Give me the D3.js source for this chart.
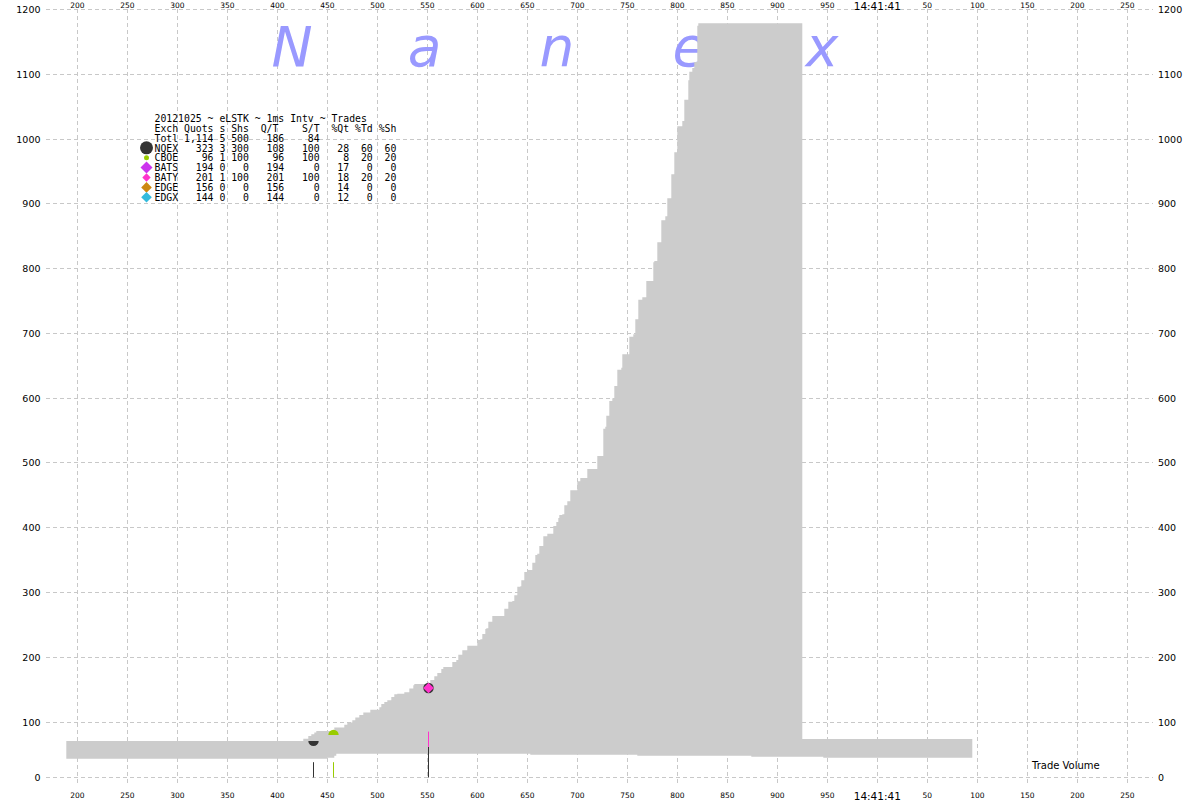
<!DOCTYPE html>
<html><head><meta charset="utf-8">
<script src="https://cdn.jsdelivr.net/npm/d3@7"></script>
<style>body{margin:0;background:#fff}svg{display:block}</style>
</head><body><svg id="c" width="1200" height="800"></svg>
<script>
// ---------- data ----------
const xTicks = [200,250,300,350,400,450,500,550,600,650,700,750,800,850,900,950,1000,1050,1100,1150,1200,1250];
const xTickLabels = ["200","250","300","350","400","450","500","550","600","650","700","750","800","850","900","950","14:41:41","50","100","150","200","250"];
const yTicks = [0,100,200,300,400,500,600,700,800,900,1000,1100,1200];

// upper edge of the shaded band (ms, value), step-after
const topTimes = [189,426,431,434,437,439,457,467,470,475,478,482,486,493,502,504,507,510,514,517,520,527,532,536,537,553,557,560,564,566,575,579,581,585,590,600,603,605,608,609,611,615,627,631,635,637,640,643,644,647,650,655,658,660,662,666,670,676,679,681,682,685,687,690,693,700,703,710,720,726,728,729,732,735,737,740,744,745,752,756,758,761,765,769,776,777,780,784,788,790,794,797,800,805,807,811,812,815,817,820,821,925,1095];
const topValues = [65,69,74,77,80,83,89,94,98,102,106,110,114,118,122,127,130,133,138,142,143,145,151,156,158,164,170,175,181,184,192,195,203,210,217,226,227,235,243,244,254,263,274,285,286,295,308,309,318,331,334,345,357,359,371,386,390,402,408,414,419,420,434,440,457,471,476,490,510,552,555,572,595,599,618,643,646,667,694,698,721,751,755,780,809,811,840,874,880,908,945,979,1019,1027,1060,1090,1103,1109,1118,1174,1178,68.5,68.5];
// lower edge of the shaded band
const bottomTimes = [189,450,457,459,653,760,874,946,1095];
const bottomValues = [33,34.8,38.4,42,40.2,38.4,36.6,34.8,34.8];

// legend table
const legendTitle = "20121025 ~ eLSTK ~ 1ms Intv ~ Trades";
const legendHeader = "Exch Quots s Shs  Q/T    S/T  %Qt %Td %Sh";
const totalRow = ["Totl","1,114","5","500","186","84"];
const exchanges = ["NQEX","CBOE","BATS","BATY","EDGE","EDGX"];
const quotes = [323,96,194,201,156,144];
const tradeCounts = [3,1,0,1,0,0];
const shares = [300,100,0,100,0,0];
const quotesPerTrade = [108,96,194,201,156,144];
const sharesPerTrade = [100,100,0,100,0,0];
const pctQuotes = [28,8,17,18,14,12];
const pctTrades = [60,20,0,20,0,0];
const pctShares = [60,20,0,20,0,0];
const exColors = ["#333333","#99cc00","#cc33ee","#ff33cc","#cc8811","#33bbdd"];
const exShapes = ["bigcircle","dot","diamondL","diamondS","diamondM","diamondM"];

// trades
const tradeTimes = [436,456,551,551];
const tradeExch = ["NQEX","CBOE","NQEX","BATY"];
const tradeShares = [100,100,200,100];
const tradeValues = [65,75.7,151.7,151.7];

// ---------- scales ----------
const svg = d3.select("#c");
const x = d3.scaleLinear().domain([200,1250]).range([77.3,1127.3]);
const y = d3.scaleLinear().domain([0,100,1200]).range([777,721.5,9]);
const vol = d3.scaleLinear().domain([0,100]).range([0,15.3]);
const gridColor = "#c8c8c8";

// ---------- grid ----------
const g = svg.append("g");
g.selectAll("line.v").data(xTicks).join("line")
  .attr("x1", d => Math.round(x(d)) + 0.5).attr("x2", d => Math.round(x(d)) + 0.5)
  .attr("y1", 9).attr("y2", 786)
  .attr("stroke", gridColor).attr("stroke-dasharray", "4,3");
g.selectAll("line.h").data(yTicks).join("line")
  .attr("y1", d => Math.round(y(d)) + 0.5).attr("y2", d => Math.round(y(d)) + 0.5)
  .attr("x1", 46).attr("x2", 1153)
  .attr("stroke", gridColor).attr("stroke-dasharray", "4,3");

// ---------- watermark ----------
const wm = ["N","a","n","e","x"];
svg.append("g").selectAll("text").data(wm).join("text")
  .attr("x", (d,i) => 292 + i*132.5).attr("y", 66)
  .attr("text-anchor","middle")
  .attr("font-family","DejaVu Sans").attr("font-style","italic")
  .attr("font-size",55).attr("fill","#9999ff").text(d => d);

// ---------- shaded band ----------
const allTimes = Array.from(new Set(topTimes.concat(bottomTimes))).sort((a,b)=>a-b);
const stepVal = (ts, vs, t) => vs[Math.max(0, d3.bisectRight(ts, t) - 1)];
const band = allTimes.map(t => ({t, hi: stepVal(topTimes, topValues, t), lo: stepVal(bottomTimes, bottomValues, t)}));
svg.append("path").datum(band)
  .attr("d", d3.area().curve(d3.curveStepAfter)
     .x(d => x(d.t)).y0(d => y(d.lo)).y1(d => y(d.hi)))
  .attr("fill","#cccccc");

// ---------- trade volume lines ----------
const colorOf = e => exColors[exchanges.indexOf(e)];
const stackBase = {};
const volData = tradeTimes.map((t,i) => {
  const base = stackBase[t] || 0;
  stackBase[t] = base + tradeShares[i];
  return {t, e: tradeExch[i], b: base, s: tradeShares[i]};
});
svg.append("g").selectAll("line").data(volData).join("line")
  .attr("x1", d => Math.round(x(d.t)) + 0.5).attr("x2", d => Math.round(x(d.t)) + 0.5)
  .attr("y1", d => 777.5 - vol(d.b)).attr("y2", d => 777.5 - vol(d.b + d.s))
  .attr("stroke", d => colorOf(d.e)).attr("stroke-width", 1);

// ---------- trade markers ----------
const mk = svg.append("g");
tradeTimes.forEach((t,i) => {
  const e = tradeExch[i], c = colorOf(e);
  const px = Math.round(x(t)) + 0.5, py = y(tradeValues[i]);
  const multi = tradeTimes.filter(u => u === t).length > 1;
  if (e === "NQEX" && !multi) {
    mk.append("path").attr("transform",`translate(${px},${py})`)
      .attr("d", d3.arc()({innerRadius:0, outerRadius:5.2, startAngle:Math.PI/2, endAngle:3*Math.PI/2})).attr("fill", c);
  } else if (e === "CBOE") {
    mk.append("path").attr("transform",`translate(${px},${py})`)
      .attr("d", d3.arc()({innerRadius:0, outerRadius:5.2, startAngle:-Math.PI/2, endAngle:Math.PI/2})).attr("fill", c);
  } else if (e === "NQEX") {
    mk.append("path").attr("transform",`translate(${px},${py})`)
      .attr("d", d3.symbol(d3.symbolCircle, Math.PI*5.2*5.2)()).attr("fill", c);
  } else {
    mk.append("path").attr("transform",`translate(${px},${py}) rotate(45)`)
      .attr("d", d3.symbol(d3.symbolSquare, 2*5.3*5.3)()).attr("fill", c);
  }
});

// ---------- legend ----------
const lg = svg.append("g").attr("font-family","DejaVu Sans Mono").attr("font-size",9.8).attr("fill","#000");
const lineY = i => 121.8 + i*9.9;
const rows = [legendTitle, legendHeader,
  totalRow[0] + totalRow[1].padStart(6) + " " + totalRow[2] + " " + totalRow[3].padStart(3) + totalRow[4].padStart(6) + totalRow[5].padStart(6)];
exchanges.forEach((e,i) => {
  rows.push(e + String(quotes[i]).padStart(6) + " " + tradeCounts[i] + " " + String(shares[i]).padStart(3)
    + String(quotesPerTrade[i]).padStart(6) + String(sharesPerTrade[i]).padStart(6)
    + String(pctQuotes[i]).padStart(5) + String(pctTrades[i]).padStart(4) + String(pctShares[i]).padStart(4));
});
lg.selectAll("text").data(rows).join("text")
  .attr("x",154.5).attr("y",(d,i)=>lineY(i))
  .attr("xml:space","preserve").style("white-space","pre").text(d=>d);
const sym = {
  bigcircle: d3.symbol(d3.symbolCircle, Math.PI*6.5*6.5)(),
  dot: d3.symbol(d3.symbolCircle, Math.PI*2.5*2.5)(),
  diamondL: d3.symbol(d3.symbolSquare, 2*6*6)(),
  diamondS: d3.symbol(d3.symbolSquare, 2*4.2*4.2)(),
  diamondM: d3.symbol(d3.symbolSquare, 2*5.3*5.3)()
};
svg.append("g").selectAll("path").data(exchanges).join("path")
  .attr("transform",(d,i)=>`translate(146.5,${lineY(i+3)-3.7})` + (exShapes[i].startsWith("diamond") ? " rotate(45)" : ""))
  .attr("d",(d,i)=>sym[exShapes[i]]).attr("fill",(d,i)=>exColors[i]);

// ---------- axis labels ----------
const ax = svg.append("g").attr("fill","#000");
ax.selectAll("text.l").data(yTicks).join("text")
  .attr("x",40.5).attr("y",d=>Math.round(y(d))+4).attr("text-anchor","end")
  .attr("font-family","DejaVu Sans").attr("font-size",9.5).text(d=>d);
ax.selectAll("text.r").data(yTicks).join("text")
  .attr("x",1158).attr("y",d=>Math.round(y(d))+4).attr("text-anchor","start")
  .attr("font-family","DejaVu Sans").attr("font-size",9.5).text(d=>d);
[[8.3,10.1],[797.8,799.5]].forEach(([yy,yt]) => {
  ax.append("g").selectAll("text").data(xTicks).join("text")
    .attr("x",d=>x(d)).attr("y",(d,i)=>xTickLabels[i].includes(":") ? yt : yy)
    .attr("text-anchor","middle").attr("font-family","DejaVu Sans")
    .attr("font-size",(d,i)=>xTickLabels[i].includes(":") ? 10.5 : 7.5)
    .text((d,i)=>xTickLabels[i]);
});
ax.append("text").attr("x",1032).attr("y",769).attr("font-family","DejaVu Sans").attr("font-size",10).text("Trade Volume");
</script>
</body></html>
